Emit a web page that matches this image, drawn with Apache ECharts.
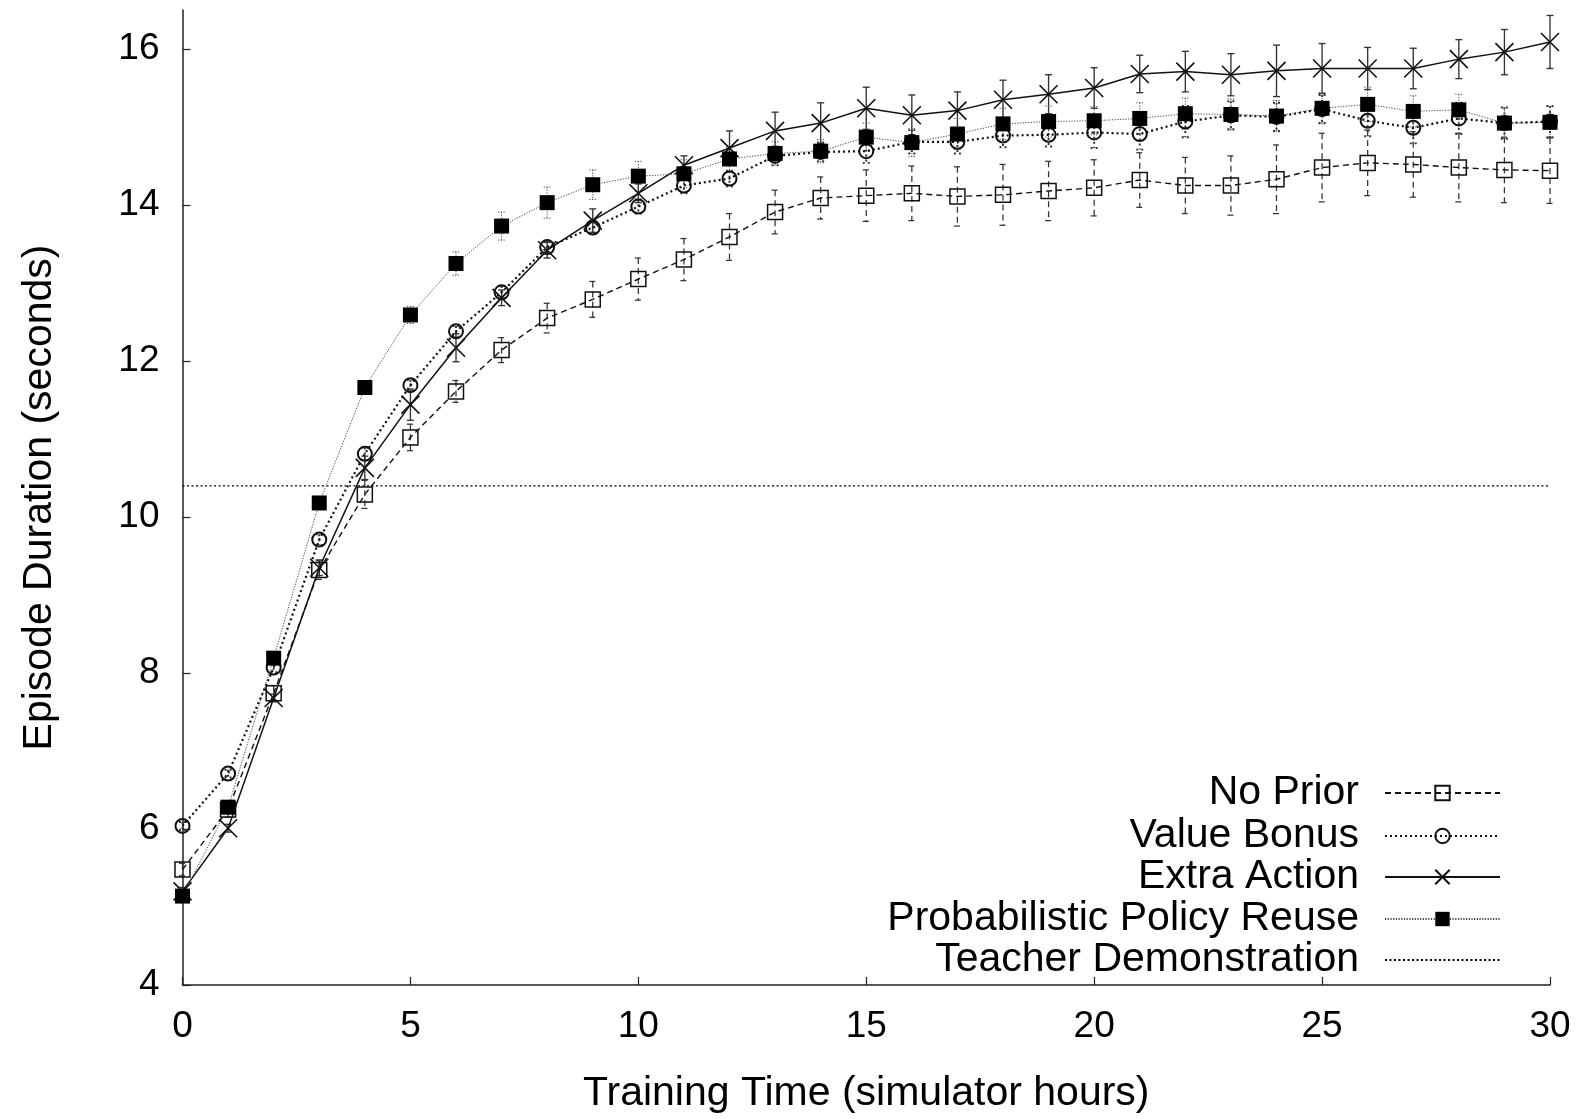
<!DOCTYPE html>
<html>
<head>
<meta charset="utf-8">
<script src="https://cdn.jsdelivr.net/npm/echarts@6/dist/echarts.min.js"></script>
<style>
html,body{margin:0;padding:0;background:#fff;}
#chart{width:1591px;height:1119px;}
</style>
</head>
<body>
<div id="chart"></div>
<script>
const hours = [0,1,2,3,4,5,6,7,8,9,10,11,12,13,14,15,16,17,18,19,20,21,22,23,24,25,26,27,28,29,30];
const noPrior = [5.48,6.25,7.74,9.32,10.29,11.02,11.61,12.14,12.55,12.79,13.05,13.30,13.59,13.91,14.09,14.12,14.15,14.11,14.13,14.18,14.22,14.32,14.25,14.25,14.33,14.48,14.54,14.52,14.48,14.45,14.44];
const noPriorErr = [0.08,0.10,0.10,0.12,0.18,0.17,0.14,0.16,0.19,0.23,0.27,0.27,0.30,0.28,0.27,0.33,0.35,0.38,0.39,0.38,0.36,0.35,0.36,0.38,0.44,0.44,0.42,0.42,0.44,0.42,0.42];
const valueBonus = [6.04,6.71,8.07,9.71,10.81,11.69,12.38,12.88,13.46,13.71,13.98,14.25,14.34,14.63,14.68,14.69,14.81,14.81,14.89,14.90,14.93,14.91,15.07,15.15,15.13,15.23,15.08,14.99,15.11,15.05,15.07];
const valueBonusErr = [0.05,0.05,0.06,0.07,0.08,0.07,0.07,0.08,0.08,0.08,0.09,0.10,0.10,0.12,0.12,0.15,0.15,0.15,0.15,0.15,0.20,0.20,0.20,0.18,0.18,0.18,0.20,0.20,0.20,0.20,0.20];
const extraAction = [5.20,6.01,7.68,9.35,10.63,11.44,12.17,12.81,13.42,13.80,14.15,14.51,14.73,14.95,15.05,15.24,15.15,15.21,15.35,15.42,15.50,15.68,15.71,15.67,15.72,15.75,15.75,15.75,15.87,15.96,16.09];
const extraActionErr = [0.05,0.05,0.05,0.10,0.15,0.20,0.18,0.10,0.10,0.15,0.12,0.12,0.22,0.24,0.26,0.27,0.26,0.24,0.25,0.25,0.26,0.24,0.26,0.27,0.33,0.32,0.27,0.26,0.25,0.29,0.34];
const policyReuse = [5.14,6.28,8.19,10.18,11.66,12.59,13.25,13.73,14.03,14.26,14.37,14.40,14.59,14.66,14.69,14.87,14.80,14.91,15.04,15.07,15.08,15.11,15.17,15.16,15.14,15.24,15.29,15.20,15.22,15.05,15.06];
const policyReuseErr = [0.04,0.05,0.06,0.06,0.08,0.11,0.15,0.18,0.20,0.19,0.19,0.18,0.15,0.15,0.15,0.18,0.18,0.20,0.20,0.20,0.18,0.20,0.20,0.20,0.20,0.20,0.22,0.20,0.20,0.20,0.20];
const teacherDemo = 10.4;
const xTicks = [0,5,10,15,20,25,30];
const yTicks = [4,6,8,10,12,14,16];
const seriesNames = ['No Prior','Value Bonus','Extra Action','Probabilistic Policy Reuse','Teacher Demonstration'];

const FONT = '"Liberation Sans", Arial, Helvetica, sans-serif';
const pts = (vals) => hours.map((h,i)=>[h, vals[i]]);
const errPts = (vals, errs) => hours.map((h,i)=>[h, vals[i], errs[i]]);

function errRender(style){
  return function(params, api){
    const x = api.value(0), y = api.value(1), e = api.value(2);
    const t = api.coord([x, y+e]), b = api.coord([x, y-e]);
    const w = 3.5;
    return {type:'group', children:[
      {type:'line', shape:{x1:t[0],y1:t[1],x2:b[0],y2:b[1]}, style:style},
      {type:'line', shape:{x1:t[0]-w,y1:t[1],x2:t[0]+w,y2:t[1]}, style:style},
      {type:'line', shape:{x1:b[0]-w,y1:b[1],x2:b[0]+w,y2:b[1]}, style:style}
    ]};
  };
}

const styles = {
  np: {color:'#111', width:1.4, type:[6,4]},
  vb: {color:'#111', width:2.2, type:[2,3]},
  ea: {color:'#111', width:1.5, type:'solid'},
  ppr:{color:'#444', width:1, type:[1.2,1.5]},
  td: {color:'#000', width:1.3, type:[2,2.5]}
};

function errSeries(name, vals, errs, st){
  return {
    name: name, type:'custom', data: errPts(vals, errs),
    renderItem: errRender({stroke: st.color==='#111' ? '#333' : st.color, lineWidth: Math.max(1, st.width*0.9), lineDash: st.type==='solid'? null : st.type, fill:null}),
    encode:{x:0,y:1}, silent:true, z:2
  };
}

const legendTops = [772.5,815.5,856.5,898.5,939.5];

const option = {
  animation:false,
  backgroundColor:'#fff',
  textStyle:{fontFamily:FONT},
  grid:{left:182.5, right:41, top:10, bottom:131, containLabel:false},
  xAxis:{
    type:'value', min:0, max:30, interval:5,
    name:'Training Time (simulator hours)', nameLocation:'middle', nameGap:88,
    nameTextStyle:{fontSize:41, color:'#000', fontFamily:FONT},
    axisLine:{lineStyle:{color:'#222', width:1.5}},
    axisTick:{inside:true, length:8, lineStyle:{color:'#222', width:1.2}, customValues: xTicks},
    axisLabel:{fontSize:37, color:'#000', margin:23, fontFamily:FONT, customValues: xTicks},
    splitLine:{show:false}
  },
  yAxis:{
    type:'value', min:4, max:16.5, interval:2,
    name:'Episode Duration (seconds)', nameLocation:'middle', nameGap:122, nameRotate:90,
    nameTextStyle:{fontSize:41, color:'#000', fontFamily:FONT},
    axisLine:{show:true, lineStyle:{color:'#222', width:1.5}},
    axisTick:{show:true, inside:true, length:8, lineStyle:{color:'#222', width:1.2}, customValues: yTicks},
    axisLabel:{fontSize:37, color:'#000', margin:23, fontFamily:FONT, customValues: yTicks},
    splitLine:{show:false}
  },
  legend: seriesNames.map((n,i)=>{
    const lg = {
      data:[n], orient:'vertical', right:90, top:legendTops[i],
      align:'right', padding:0, itemWidth:115, itemHeight:18, selectedMode:false,
      textStyle:{fontSize:41, lineHeight:41, color:'#000', fontFamily:FONT, padding:[0,21,0,0]}
    };
    if (i === 4) lg.itemStyle = {color:'rgba(0,0,0,0)', borderWidth:0, opacity:0};
    return lg;
  }),
  series:[
    {type:'line', name:seriesNames[4], data:[[hours[0], teacherDemo],[hours[hours.length-1], teacherDemo]],
      showSymbol:false, symbol:'none', lineStyle:styles.td, itemStyle:{color:'#000'}, z:1},
    errSeries('np-err', noPrior, noPriorErr, styles.np),
    {type:'line', name:seriesNames[0], data:pts(noPrior), symbol:'rect', symbolSize:15,
      lineStyle:styles.np, itemStyle:{color:'rgba(0,0,0,0)', borderColor:'#111', borderWidth:1.5}, z:3},
    errSeries('vb-err', valueBonus, valueBonusErr, styles.vb),
    {type:'line', name:seriesNames[1], data:pts(valueBonus), symbol:'circle', symbolSize:14,
      lineStyle:styles.vb, itemStyle:{color:'rgba(0,0,0,0)', borderColor:'#111', borderWidth:2}, z:3},
    errSeries('ea-err', extraAction, extraActionErr, styles.ea),
    {type:'line', name:seriesNames[2], data:pts(extraAction), symbol:'path://M0,0L20,20M20,0L0,20', symbolSize:18,
      lineStyle:styles.ea, itemStyle:{color:'rgba(0,0,0,0)', borderColor:'#111', borderWidth:1.6}, z:3},
    errSeries('ppr-err', policyReuse, policyReuseErr, styles.ppr),
    {type:'line', name:seriesNames[3], data:pts(policyReuse), symbol:'rect', symbolSize:15,
      lineStyle:styles.ppr, itemStyle:{color:'#000', borderColor:'#000', borderWidth:0}, z:4}
  ]
};

const chart = echarts.init(document.getElementById('chart'), null, {renderer:'canvas'});
chart.setOption(option);
</script>
</body>
</html>
